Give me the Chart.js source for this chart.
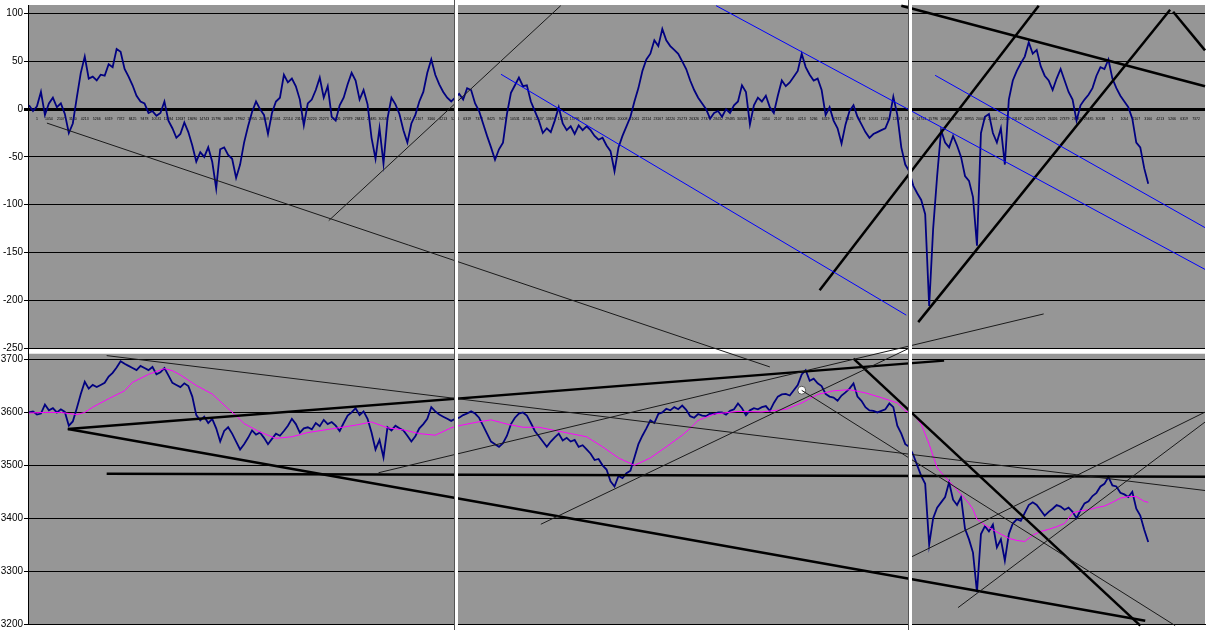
<!DOCTYPE html>
<html>
<head>
<meta charset="utf-8">
<script src="https://cdn.jsdelivr.net/npm/chart.js@4.4.0/dist/chart.umd.min.js"></script>
<style>
html, body { margin: 0; padding: 0; background: #fff; overflow: hidden; }
#wrap { position: relative; width: 1210px; height: 630px; }
</style>
</head>
<body>
<div id="wrap"><canvas id="chart" width="1210" height="630"></canvas></div>
<script>
// oscillator (top panel), one value per bar
const oscValues = [
    4, -2, 3, 18, -6, 6, 12, 2, 6, -5,
    -25, -15, 12, 38, 55, 32, 34, 30, 36, 35,
    47, 44, 63, 60, 42, 34, 25, 14, 8, 6,
    -4, -2, -7, -4, 8, -12, -20, -30, -26, -14,
    -24, -38, -55, -45, -50, -40, -55, -83, -42, -40,
    -48, -52, -72, -58, -35, -18, -3, 8, 0, -6,
    -26, -4, 8, 12, 36, 28, 32, 24, 10, -17,
    6, 10, 20, 33, 12, 24, -8, -12, 4, 12,
    26, 38, 30, 10, 20, 5, -30, -52, -20, -57,
    -10, 12, 5, -5, -22, -35, -15, -6, 8, 18,
    38, 52, 36, 26, 18, 12, 8, 12, 16, 10,
    22, 20, 6, -2, -15, -28, -40, -53, -42, -35,
    -5, 17, 25, 33, 24, 25, 8, -2, -12, -25,
    -20, -24, -12, 2, -15, -22, -18, -26, -17, -22,
    -18, -22, -28, -32, -30, -38, -44, -65, -40, -28,
    -18, -8, 8, 22, 40, 52, 58, 72, 66, 84,
    72, 66, 62, 58, 50, 42, 30, 20, 12, 6,
    0, -10, -4, -2, -8, 0, -4, 4, 8, 25,
    18, -16, 4, 12, 8, 14, 2, -4, 14, 30,
    24, 28, 34, 40, 58, 44, 36, 30, 32, 20,
    -6, 2, -12, -20, -36, -16, -2, 4, -8, -16,
    -24, -30, -26, -24, -22, -20, -10, 13, -6, -40,
    -58, -65, -80, -88, -95, -110, -206, -125, -70, -22,
    -35, -40, -28, -38, -50, -70, -75, -92, -143, -25,
    -8, -5, -25, -35, -20, -58, 10, 30, 40, 48,
    55, 70, 58, 62, 45, 35, 30, 20, 32, 42,
    30, 18, 10, -12, 4, 10, 15, 22, 35, 44,
    42, 52, 32, 22, 14, 8, 2, -10, -35, -40,
    -62, -78
];

// price (bottom panel), one value per bar
const priceValues = [
    3600, 3602, 3596, 3598, 3615, 3604, 3608, 3600, 3606, 3601,
    3575, 3583, 3608, 3635, 3658, 3645, 3652, 3648, 3652, 3656,
    3668, 3675, 3685, 3697, 3692, 3688, 3684, 3680, 3688, 3684,
    3680, 3686, 3672, 3676, 3684, 3670, 3656, 3652, 3648, 3655,
    3650, 3630, 3595, 3585, 3592, 3580, 3588, 3570, 3545, 3565,
    3572, 3560, 3545, 3530, 3540, 3552, 3566, 3558, 3562, 3552,
    3540, 3550, 3560, 3556, 3565, 3575, 3588, 3578, 3562, 3570,
    3572, 3568, 3580, 3574, 3586, 3578, 3582, 3575, 3565, 3580,
    3594, 3600, 3608, 3595, 3602, 3588, 3562, 3530, 3548, 3515,
    3572, 3566, 3575, 3570, 3566, 3556, 3545, 3555, 3570, 3578,
    3588, 3610, 3602, 3596, 3592, 3588, 3584, 3588, 3590, 3595,
    3598, 3602, 3598, 3590, 3575, 3560, 3545, 3540, 3535, 3542,
    3556, 3578, 3590, 3598, 3600, 3594, 3580, 3565, 3555, 3545,
    3535, 3545, 3553, 3560, 3547, 3552, 3545, 3548, 3535, 3538,
    3530, 3522, 3510, 3512, 3500, 3492, 3470, 3460, 3480, 3476,
    3485, 3490, 3515, 3540, 3556, 3570, 3585, 3580, 3597, 3600,
    3607, 3604, 3610, 3606, 3613, 3605, 3593, 3590, 3597, 3594,
    3593, 3598, 3597, 3600, 3600, 3596, 3603, 3606, 3617, 3608,
    3595, 3604, 3608, 3606, 3610, 3612, 3603, 3618, 3630, 3634,
    3635, 3632, 3642, 3652, 3672, 3680, 3660, 3664, 3655, 3650,
    3635, 3630, 3628, 3622, 3632, 3638, 3645, 3655, 3630, 3622,
    3610, 3604, 3603, 3600, 3603, 3606, 3617, 3610, 3575, 3560,
    3540, 3535, 3520, 3500, 3480, 3465, 3350, 3400, 3420, 3430,
    3440, 3468, 3435, 3425, 3440, 3380, 3360, 3335, 3260, 3370,
    3385, 3375, 3388, 3345, 3360, 3320, 3370, 3390, 3398, 3395,
    3410, 3425, 3430, 3425, 3415, 3405, 3412, 3418, 3425, 3422,
    3416, 3420, 3412, 3400, 3415, 3428, 3432, 3442, 3448, 3460,
    3465, 3478, 3462, 3460, 3448, 3445, 3440, 3450, 3418, 3405,
    3378, 3355
];

// moving average (magenta), read at these bars
const avgBars = [0, 4, 8, 10, 12, 14, 16, 20, 24, 26, 30, 34, 36, 38, 42, 46, 50, 52, 54, 58,
    62, 66, 70, 76, 82, 86, 90, 94, 98, 102, 106, 108, 112, 116, 120, 124, 128, 132, 136, 140,
    144, 148, 152, 156, 160, 164, 166, 168, 172, 178, 184, 190, 194, 198, 202, 206, 210, 214, 218, 220,
    222, 224, 225, 226, 228, 230, 232, 234, 236, 237, 238, 240, 242, 244, 246, 248, 250, 252, 254, 256,
    258, 260, 262, 264, 266, 268, 270, 272, 274, 276, 278, 280, 281];
const avgValues = [3599, 3600, 3600, 3598, 3596, 3600, 3610, 3626, 3641, 3657, 3672, 3683, 3679, 3671, 3651, 3635, 3607, 3594, 3579, 3563,
    3551, 3554, 3562, 3569, 3576, 3582, 3571, 3567, 3560, 3557, 3571, 3575, 3581, 3586, 3578, 3572, 3572, 3566, 3560, 3554,
    3535, 3514, 3500, 3514, 3535, 3557, 3570, 3585, 3597, 3602, 3601, 3606, 3618, 3634, 3641, 3643, 3637, 3628, 3618, 3603,
    3596, 3578, 3559, 3540, 3495, 3478, 3462, 3445, 3428, 3417, 3398, 3387, 3378, 3370, 3362, 3358, 3356, 3368, 3375, 3379,
    3384, 3390, 3410, 3414, 3416, 3420, 3423, 3430, 3438, 3441, 3441, 3432, 3430];

// axis ticks and labels
const topTicks = [-250, -200, -150, -100, -50, 0, 50, 100];
const bottomTicks = [3200, 3300, 3400, 3500, 3600, 3700];
const barLabels = ['1', '1054', '2107', '3160', '4213', '5266', '6319', '7372', '8425', '9478',
    '10531', '11584', '12637', '13690', '14743', '15796', '16849', '17902', '18955', '20008',
    '21061', '22114', '23167', '24220', '25273', '26326', '27379', '28432', '29485', '30538'];
const panelBreaks = [107, 221];

// trend lines: [bar1, value1, bar2, value2]
const topThin = [[4.5, -14.6, 186, -269.8], [75.25, -116.7, 133.5, 108.3]];
const topBlue = [[118.5, 36.5, 220.25, -215.6], [172.5, 108.3, 295.25, -167.7], [227.5, 35.4, 295.25, -124]];
const topThick = [[198.5, -189.6, 253.5, 108.3], [223.25, -222.9, 286.5, 104], [219, 108.3, 295.25, 24], [287.25, 102, 295.25, 61.5]];
const bottomThin = [[19.5, 3707.5, 295.25, 3452.4], [87.75, 3486, 254.75, 3786.3], [128.5, 3388.6, 220.75, 3720.6],
    [194, 3641.8, 287.75, 3197], [221, 3324.8, 295.25, 3600.6], [233.25, 3231, 295.25, 3581.8]];
const bottomThick = [[9.75, 3568.7, 229.75, 3698], [9.75, 3568.7, 280.25, 3206], [19.5, 3484.2, 295.25, 3478.6], [207, 3701.9, 279, 3197]];
const markerPoint = [194, 3642];

const firstBar = -0.25;
const lastBar = 295.25;

function seg(l, axis, color, width) {
    return {
        type: 'line',
        data: [{x: l[0], y: l[1]}, {x: l[2], y: l[3]}],
        yAxisID: axis,
        borderColor: color,
        borderWidth: width,
        pointRadius: 0,
        clip: false,
        order: 0
    };
}

const datasets = [];
topThin.forEach(l => datasets.push(seg(l, 'yTop', '#1a1a1a', 1)));
topBlue.forEach(l => datasets.push(seg(l, 'yTop', '#0000ff', 1)));
topThick.forEach(l => datasets.push(seg(l, 'yTop', '#000', 2.5)));
bottomThin.forEach(l => datasets.push(seg(l, 'yBot', '#1a1a1a', 1)));
bottomThick.forEach(l => datasets.push(seg(l, 'yBot', '#000', 2.5)));

datasets.push({
    type: 'scatter',
    data: [{x: markerPoint[0], y: markerPoint[1]}],
    yAxisID: 'yBot',
    pointRadius: 4,
    pointBackgroundColor: '#fff',
    pointBorderColor: '#555',
    pointBorderWidth: 1,
    order: 0
});
datasets.push({
    type: 'line',
    data: avgBars.map((b, i) => ({x: b, y: avgValues[i]})),
    yAxisID: 'yBot',
    borderColor: '#ff00ff',
    borderWidth: 1,
    pointRadius: 0,
    order: 1
});
datasets.push({
    type: 'line',
    data: oscValues.map((v, i) => ({x: i, y: v})),
    yAxisID: 'yTop',
    borderColor: '#000080',
    borderWidth: 1.8,
    pointRadius: 0,
    order: 2
});
datasets.push({
    type: 'line',
    data: priceValues.map((v, i) => ({x: i, y: v})),
    yAxisID: 'yBot',
    borderColor: '#000080',
    borderWidth: 1.8,
    pointRadius: 0,
    order: 2
});

// grey plot panels with a white gap, and white seams between the three screenshots
const panels = {
    id: 'panels',
    beforeDraw(chart) {
        const c = chart.ctx, a = chart.chartArea;
        const yt = chart.scales.yTop, yb = chart.scales.yBot;
        const tb = yt.getPixelForValue(topTicks[0]);
        c.save();
        c.fillStyle = '#969696';
        c.fillRect(a.left, yt.top, a.right - a.left, tb - yt.top);
        c.fillRect(a.left, yb.top, a.right - a.left, yb.bottom - yb.top);
        c.restore();
    },
    afterDatasetsDraw(chart) {
        const c = chart.ctx, x = chart.scales.x;
        c.save();
        panelBreaks.forEach(b => {
            const px = Math.round(x.getPixelForValue(b));
            c.fillStyle = '#fff';
            c.fillRect(px, 0, 3, chart.height);
            c.fillStyle = '#555';
            c.fillRect(px - 1, 0, 1, chart.height);
        });
        c.restore();
    }
};

// fixed-width value axes, no extra label padding above/below the plot
function fitAxis(s) {
    s.width = 28;
    s.paddingTop = 0;
    s.paddingBottom = 0;
}

Chart.defaults.font.family = 'Liberation Sans, Arial, sans-serif';

new Chart(document.getElementById('chart'), {
    type: 'line',
    data: {datasets},
    plugins: [panels],
    options: {
        responsive: false,
        animation: false,
        layout: {padding: {top: 0, bottom: 6, left: 0, right: 0}},
        plugins: {legend: {display: false}, tooltip: {enabled: false}},
        scales: {
            x: {
                type: 'linear',
                min: firstBar,
                max: lastBar,
                ticks: {display: false},
                grid: {display: false, drawTicks: false},
                border: {display: true, color: '#000'}
            },
            xLab: {
                type: 'linear',
                position: {yTop: 0},
                min: firstBar,
                max: lastBar,
                afterBuildTicks: s => {
                    const t = [];
                    for (let b = 2; b < lastBar; b += 3) t.push({value: b});
                    s.ticks = t;
                },
                ticks: {
                    autoSkip: false,
                    maxRotation: 0,
                    padding: 0,
                    color: '#000',
                    font: {size: 3.5},
                    callback: (v, i) => barLabels[i % barLabels.length]
                },
                grid: {display: false},
                border: {display: false}
            },
            yBot: {
                type: 'linear',
                position: 'left',
                stack: 'panels',
                stackWeight: 272,
                min: 3200,
                max: 3711,
                afterBuildTicks: s => { s.ticks = bottomTicks.map(v => ({value: v})); },
                afterFit: fitAxis,
                ticks: {color: '#000', font: {size: 10}, padding: 1, callback: v => String(v)},
                grid: {color: '#000', lineWidth: 1, tickLength: 4},
                border: {color: '#000'}
            },
            yTop: {
                type: 'linear',
                position: 'left',
                stack: 'panels',
                stackWeight: 351,
                min: -256,
                max: 109,
                afterBuildTicks: s => { s.ticks = topTicks.map(v => ({value: v})); },
                afterFit: fitAxis,
                ticks: {color: '#000', font: {size: 10}, padding: 1, callback: v => String(v)},
                grid: {color: '#000', lineWidth: c => (c.tick && c.tick.value === 0 ? 3 : 1), tickLength: 4},
                border: {color: '#000'}
            }
        }
    }
});
</script>
</body>
</html>
